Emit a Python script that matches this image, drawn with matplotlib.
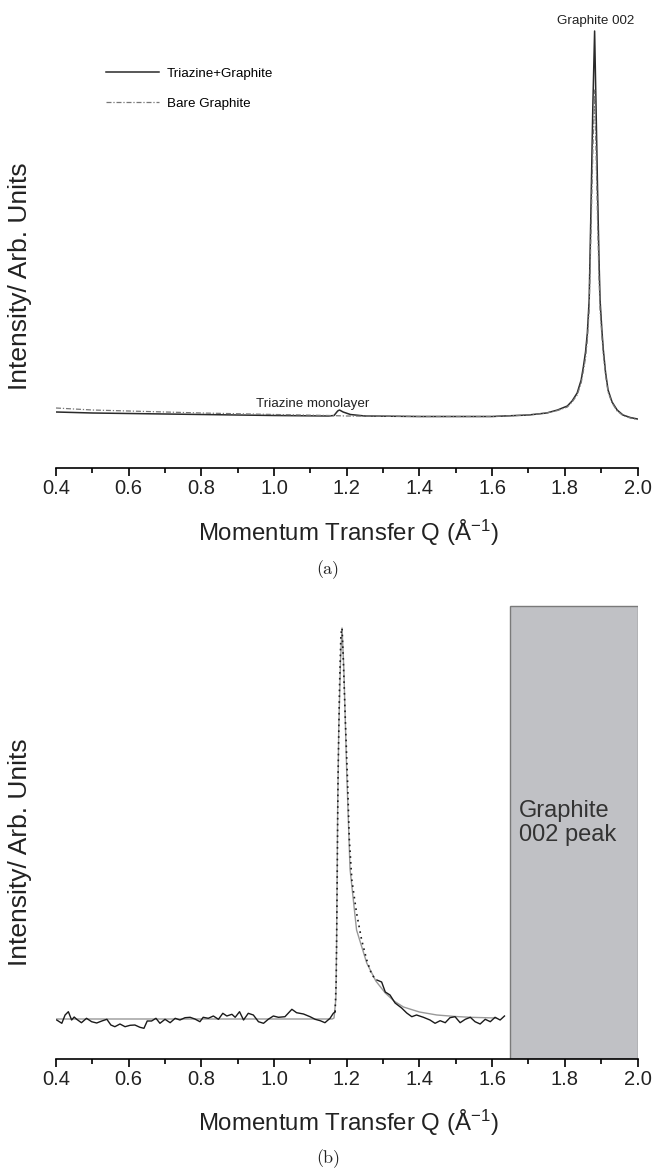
import matplotlib
matplotlib.use("Agg")
import matplotlib.pyplot as plt
from matplotlib.patches import Rectangle
from matplotlib.ticker import MultipleLocator

plt.rcParams['font.family'] = ['Liberation Sans', 'DejaVu Sans']
plt.rcParams['mathtext.default'] = 'regular'

# ---- panel (a): wide scan ----
q_tri = [0.40, 0.50, 0.60, 0.80, 1.00, 1.15, 1.165, 1.175, 1.18, 1.19, 1.21, 1.25, 1.40, 1.60,
         1.70, 1.75, 1.78, 1.807, 1.82, 1.834, 1.845, 1.851, 1.857, 1.862, 1.867, 1.872, 1.877,
         1.882, 1.886, 1.890, 1.894, 1.897, 1.902, 1.906, 1.912, 1.919, 1.93, 1.944, 1.96, 1.98, 2.0]
i_tri = [56, 55, 54.5, 53.5, 52.5, 52, 52.5, 57, 58, 56, 53.5, 52, 51.5, 51.5,
         53, 55, 58, 62, 67, 75, 88, 101, 116, 135, 168, 260, 360,
         437, 360, 280, 210, 168, 138, 118, 96, 78, 66, 58, 53, 50.5, 49]

q_bare = [0.40, 0.50, 0.60, 0.80, 1.00, 1.15, 1.20, 1.40, 1.60, 1.70, 1.75, 1.78, 1.807, 1.82,
          1.834, 1.845, 1.851, 1.857, 1.862, 1.867, 1.872, 1.877, 1.882, 1.886, 1.890, 1.894,
          1.897, 1.902, 1.906, 1.912, 1.919, 1.93, 1.944, 1.96, 1.98, 2.0]
i_bare = [60, 58, 57, 55, 53.5, 52.5, 52, 51.5, 51.5, 53, 55, 57.5, 61, 66,
          73, 85, 97, 110, 128, 158, 235, 315, 378, 315, 250, 190,
          158, 132, 113, 93, 76, 65, 57, 52.5, 50, 48.5]

# ---- panel (b): zoom on monolayer peak ----
q_meas = [0.402, 0.416, 0.425, 0.434, 0.443, 0.450, 0.457, 0.470, 0.484, 0.498, 0.512, 0.526,
          0.540, 0.551, 0.562, 0.576, 0.590, 0.604, 0.617, 0.631, 0.642, 0.651, 0.663, 0.675,
          0.686, 0.700, 0.714, 0.728, 0.741, 0.755, 0.769, 0.782, 0.796, 0.805, 0.819, 0.833,
          0.847, 0.859, 0.870, 0.884, 0.893, 0.905, 0.916, 0.929, 0.943, 0.957, 0.971, 0.984,
          0.998, 1.012, 1.030, 1.049, 1.062, 1.081, 1.099, 1.113, 1.127, 1.140, 1.154, 1.163,
          1.168]
i_meas = [39, 35.7, 44, 47.3, 39, 42, 39.7, 36.3, 40.7, 37.3, 36, 38, 39.7, 34, 32.3, 35,
          32.3, 33.7, 34, 31.7, 30.7, 38, 38, 40.7, 35.7, 39.7, 36.3, 40.7, 39, 41.3, 41.7,
          40, 37.3, 41.7, 40.7, 43, 39.7, 45.7, 43, 44.7, 41.7, 47.3, 39, 45.7, 44, 37.3, 35.7,
          39.7, 43, 41.7, 42.3, 49.7, 46.3, 45, 42.3, 39.7, 38.3, 36.3, 40.7, 45.7, 47]

q_top = [1.168, 1.171, 1.173, 1.176, 1.180, 1.184, 1.187, 1.190, 1.196, 1.202, 1.207, 1.214,
         1.227, 1.241, 1.255, 1.269, 1.283]
i_top = [47, 79, 150, 280, 370, 425, 431, 405, 340, 280, 220, 179, 146, 119, 99, 84, 79]

q_tail = [1.283, 1.296, 1.306, 1.319, 1.333, 1.351, 1.365, 1.379, 1.392, 1.411, 1.429, 1.443,
          1.457, 1.471, 1.484, 1.498, 1.512, 1.526, 1.540, 1.553, 1.567, 1.581, 1.595, 1.608,
          1.622, 1.634]
i_tail = [79, 77, 67, 64, 56, 51, 46, 42.3, 44, 41.7, 39, 35.7, 38.3, 36.3, 41.3, 42.3, 36.3,
          39.7, 41.7, 37.3, 35, 39.7, 37.3, 41.7, 39, 43]

q_fit = [0.40, 1.16, 1.165, 1.170, 1.172, 1.175, 1.178, 1.183, 1.187, 1.192, 1.200, 1.209,
         1.227, 1.255, 1.280, 1.306, 1.330, 1.356, 1.400, 1.448, 1.500, 1.540, 1.610]
i_fit = [40, 40, 41, 60, 112, 250, 330, 400, 431, 390, 286, 190, 129, 96, 78, 66, 58, 52,
         47, 44, 42.5, 41.7, 41]

graphite_band = (1.65, 2.0)

W, H = 654, 1170
fig = plt.figure(figsize=(W / 100, H / 100), dpi=100)


def style_axis(ax):
    for s in ("left", "right", "top"):
        ax.spines[s].set_visible(False)
    ax.spines["bottom"].set_linewidth(1.2)
    ax.set_xlim(0.4, 2.0)
    ax.xaxis.set_minor_locator(MultipleLocator(0.1))
    ax.tick_params(axis="x", which="major", direction="out", length=6, width=1.2,
                   labelsize=14.5, pad=2, labelcolor="#222222")
    ax.tick_params(axis="x", which="minor", direction="out", length=3.5, width=1.2)
    ax.set_yticks([])
    ax.set_xticks([0.4, 0.6, 0.8, 1.0, 1.2, 1.4, 1.6, 1.8, 2.0])
    ax.set_xticklabels(["0.4", "0.6", "0.8", "1.0", "1.2", "1.4", "1.6", "1.8", "2.0"])


x0 = 56 / W
wid = 581.5 / W

# panel a
ax1 = fig.add_axes([x0, 1 - 468 / H, wid, 453 / H])
style_axis(ax1)
ax1.set_ylim(0, 453)
ax1.plot(q_tri, i_tri, color="#2a2a2a", lw=1.1, label="Triazine+Graphite")
ax1.plot(q_bare, i_bare, color="#777777", lw=0.9, ls=(0, (4, 1.5, 1, 1.5)), label="Bare Graphite")
ax1.legend(loc="upper left", bbox_to_anchor=(0.065, 0.91), frameon=False, fontsize=9.6,
           handlelength=4.0, labelspacing=1.3, handletextpad=0.6)
ax1.text(1.105, 64, "Triazine monolayer", ha="center", va="center", fontsize=9.6, color="#222222")
ax1.text(1.886, 447, "Graphite 002", ha="center", va="center", fontsize=9.6, color="#222222")

# panel b
ax2 = fig.add_axes([x0, 1 - 1059 / H, wid, 460 / H])
style_axis(ax2)
ax2.set_ylim(0, 460)
ax2.add_patch(Rectangle((graphite_band[0], 0), graphite_band[1] - graphite_band[0], 453,
                        facecolor="#c0c1c5", edgecolor="#7a7a7a", lw=1.0, zorder=1))
ax2.text(graphite_band[0] + 0.024, 236, "Graphite\n002 peak", ha="left", va="center",
         fontsize=17, color="#333333", linespacing=1.1, zorder=3)
ax2.plot(q_fit, i_fit, color="#999999", lw=1.0, zorder=2)
ax2.plot(q_meas, i_meas, color="#1a1a1a", lw=1.0, zorder=3)
ax2.plot(q_top, i_top, color="#1a1a1a", lw=1.2, ls=(0, (1, 2.5)), zorder=3)
ax2.plot(q_tail, i_tail, color="#1a1a1a", lw=1.0, zorder=3)

# labels
xlab = "Momentum Transfer Q (Å$^{-1}$)"
ylab = "Intensity/ Arb. Units"
fig.text(348 / W, 1 - 533 / H, xlab, ha="center", va="center", fontsize=17.3, color="#222222")
fig.text(348 / W, 1 - 1123 / H, xlab, ha="center", va="center", fontsize=17.3, color="#222222")
fig.text(20 / W, 1 - 276 / H, ylab, ha="center", va="center", rotation=90, fontsize=19,
         color="#222222")
fig.text(20 / W, 1 - 852 / H, ylab, ha="center", va="center", rotation=90, fontsize=19,
         color="#222222")
fig.text(328 / W, 1 - 570 / H, "(a)", ha="center", va="center", fontsize=13,
         family="cmr10", color="#222222")
fig.text(328 / W, 1 - 1159 / H, "(b)", ha="center", va="center", fontsize=13,
         family="cmr10", color="#222222")

fig.savefig("out.png", dpi=100)
